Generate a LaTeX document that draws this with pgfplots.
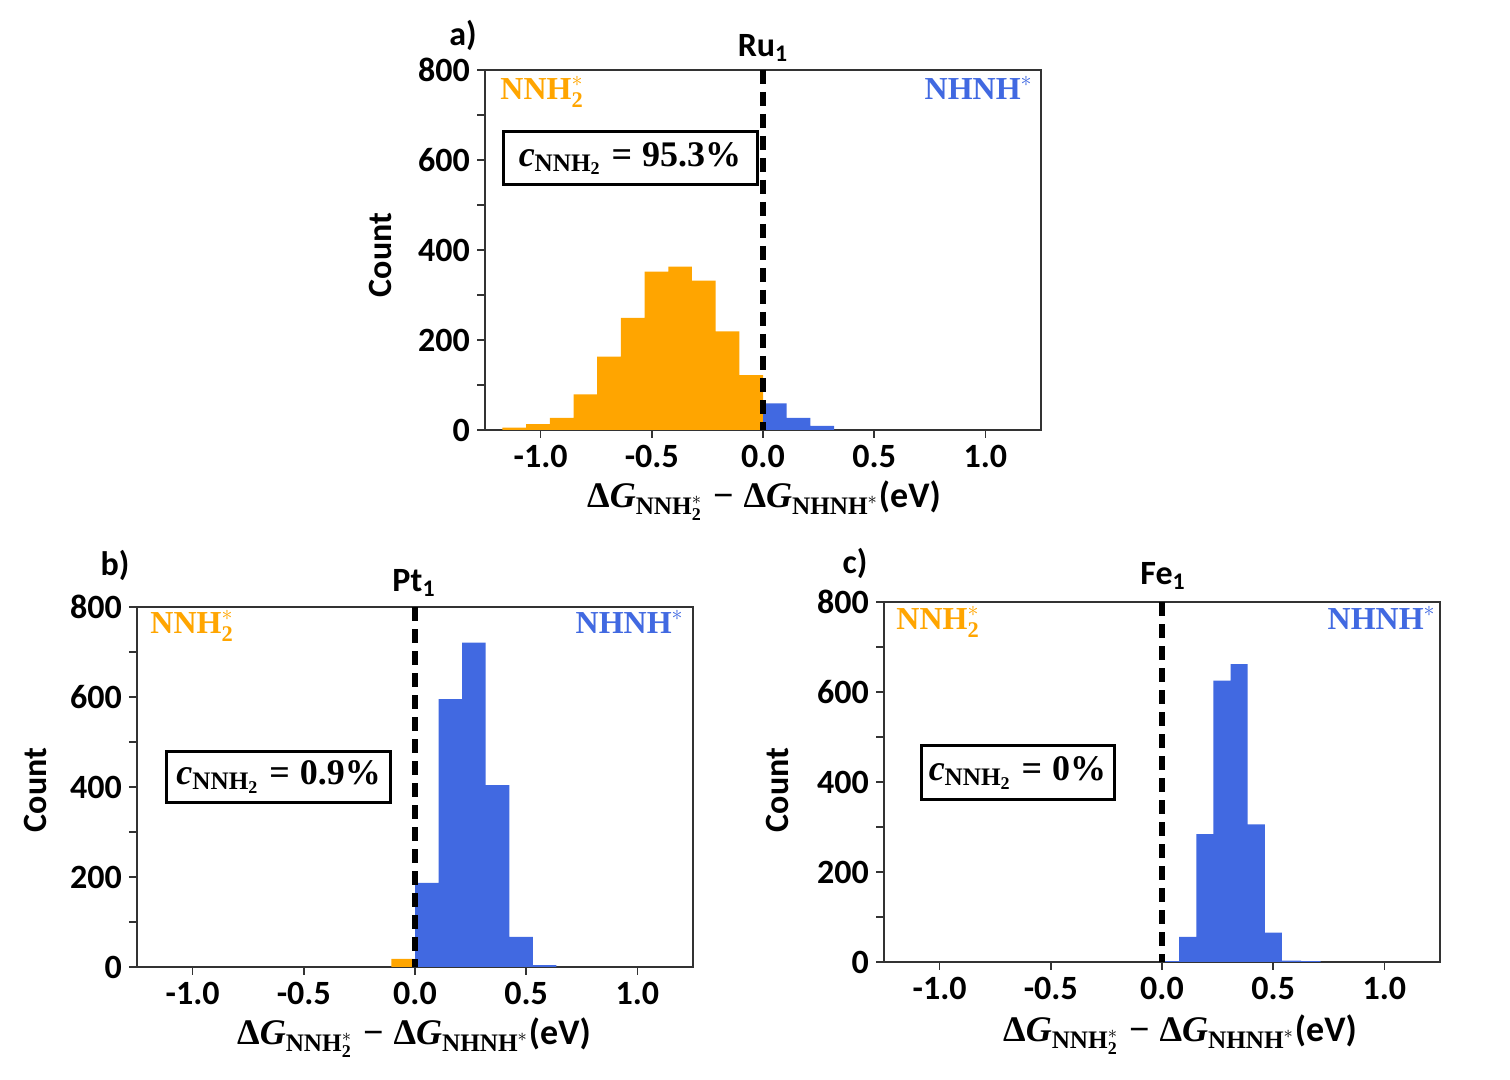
\documentclass[border=0pt]{standalone}
\usepackage{amsmath}
\usepackage[no-math]{fontspec}
\setmainfont{Carlito}
\newfontfamily\cam{Liberation Serif}
\usepackage{pgfplots}
\pgfplotsset{compat=1.18}
\definecolor{myorange}{HTML}{FFA500}
\definecolor{myblue}{HTML}{4169E1}
\definecolor{framegray}{HTML}{333333}
\pgfplotsset{hist/.style={
  scale only axis, width=278pt, height=180pt, anchor=south west,
  xmin=-1.25, xmax=1.25, ymin=0, ymax=800,
  xtick={-1,-0.5,0,0.5,1}, xticklabels={-1.0,-0.5,0.0,0.5,1.0},
  ytick={0,200,400,600,800}, yticklabels={0,200,400,600,800},
  minor ytick={100,300,500,700},
  tick align=outside, xtick pos=bottom, ytick pos=left,
  major tick length=4pt, minor tick length=4pt,
  axis line style={framegray, line width=0.75pt},
  every tick/.style={framegray, line width=0.75pt},
  tick label style={font=\fontsize{17}{20}\selectfont\bfseries},
}}
\newcommand{\sbt}[1]{\text{\cam\bfseries #1}}
\tikzset{dashl/.style={black, line width=3pt, dash pattern=on 7pt off 4pt},
  cbox/.style={draw=black, line width=1.5pt, inner sep=0pt, font=\fontsize{18}{21}\selectfont},
  big/.style={font=\fontsize{17}{20}\selectfont\bfseries},
  xlab/.style={font=\fontsize{18}{21}\selectfont\bfseries},
  spec/.style={font=\fontsize{16}{19}\selectfont, inner sep=0pt}}
\newcommand{\xl}{{\cam\bfseries Δ\textit{G}}$_{\sbt{NNH}_{\sbt{2}}^{\ast}}$\;{\cam\bfseries −}\;{\cam\bfseries Δ\textit{G}}$_{\sbt{NHNH}^{\ast}}$(eV)}
\newcommand{\cv}[1]{{\cam\bfseries\itshape c}$_{\sbt{NNH}_{\sbt{2}}}$\;{\cam\bfseries =\;#1}}
\newcommand{\nnh}{$\sbt{NNH}_{\sbt{2}}^{\ast}$}
\newcommand{\nhnh}{$\sbt{NHNH}^{\ast}$}
\begin{document}
\begin{tikzpicture}
\path[use as bounding box] (0,0) rectangle (755pt,540pt);
% panel a
\begin{axis}[hist, at={(242.5pt,325pt)}]
\addplot[fill=myorange, draw=none, const plot] coordinates {
(-1.1715,5) (-1.065,13) (-0.9585,27) (-0.852,79) (-0.7455,163) (-0.639,249)
(-0.5325,352) (-0.426,363) (-0.3195,332) (-0.213,219) (-0.1065,122) (0,0)} \closedcycle;
\addplot[fill=myblue, draw=none, const plot] coordinates {
(0,59) (0.1065,27) (0.213,9) (0.3195,0)} \closedcycle;
\addplot[dashl] coordinates {(0,800) (0,0)};
\end{axis}
% panel b
\begin{axis}[hist, at={(68.5pt,56.5pt)}]
\addplot[fill=myorange, draw=none, const plot] coordinates {
(-0.106,18) (0,0)} \closedcycle;
\addplot[fill=myblue, draw=none, const plot] coordinates {
(0,187) (0.106,595) (0.212,721) (0.318,404) (0.424,67) (0.530,4) (0.636,0)} \closedcycle;
\addplot[dashl] coordinates {(0,800) (0,0)};
\end{axis}
% panel c
\begin{axis}[hist, at={(442pt,59pt)}]
\addplot[fill=myblue, draw=none, const plot] coordinates {
(0,2) (0.077,56) (0.154,284) (0.231,625) (0.308,662) (0.385,306) (0.462,65)
(0.539,3) (0.626,2) (0.713,0)} \closedcycle;
\addplot[dashl] coordinates {(0,800) (0,0)};
\end{axis}
% panel letters and titles
\node[big] at (231.5pt,522.5pt) {a)};
\node[big] at (57.5pt,257.5pt) {b)};
\node[big] at (427.5pt,258.5pt) {c)};
\node[big] at (381.5pt,516pt) {Ru\textsubscript{1}};
\node[big] at (207pt,248.5pt) {Pt\textsubscript{1}};
\node[big] at (581.5pt,252pt) {Fe\textsubscript{1}};
% y labels
\node[big, rotate=90] at (190pt,412.5pt) {Count};
\node[big, rotate=90] at (17.5pt,145pt) {Count};
\node[big, rotate=90] at (388.5pt,145pt) {Count};
% x labels
\node[xlab, anchor=base] at (382pt,286pt) {\xl};
\node[xlab, anchor=base] at (207pt,17.5pt) {\xl};
\node[xlab, anchor=base] at (590pt,19pt) {\xl};
% species labels
\node[spec, anchor=north west, text=myorange] at (250pt,502pt) {\nnh};
\node[spec, anchor=north west, text=myorange] at (75pt,235pt) {\nnh};
\node[spec, anchor=north west, text=myorange] at (448pt,237pt) {\nnh};
\node[spec, anchor=north east, text=myblue] at (516.5pt,502pt) {\nhnh};
\node[spec, anchor=north east, text=myblue] at (342pt,235pt) {\nhnh};
\node[spec, anchor=north east, text=myblue] at (718pt,237pt) {\nhnh};
% boxes
\node[cbox, minimum width=127pt, minimum height=26.5pt] at (315pt,460.75pt) {\cv{95.3\%}};
\node[cbox, minimum width=112pt, minimum height=25.5pt] at (139.35pt,151.4pt) {\cv{0.9\%}};
\node[cbox, minimum width=96.5pt, minimum height=27pt] at (508.75pt,153.5pt) {\cv{0\%}};
\end{tikzpicture}
\end{document}
